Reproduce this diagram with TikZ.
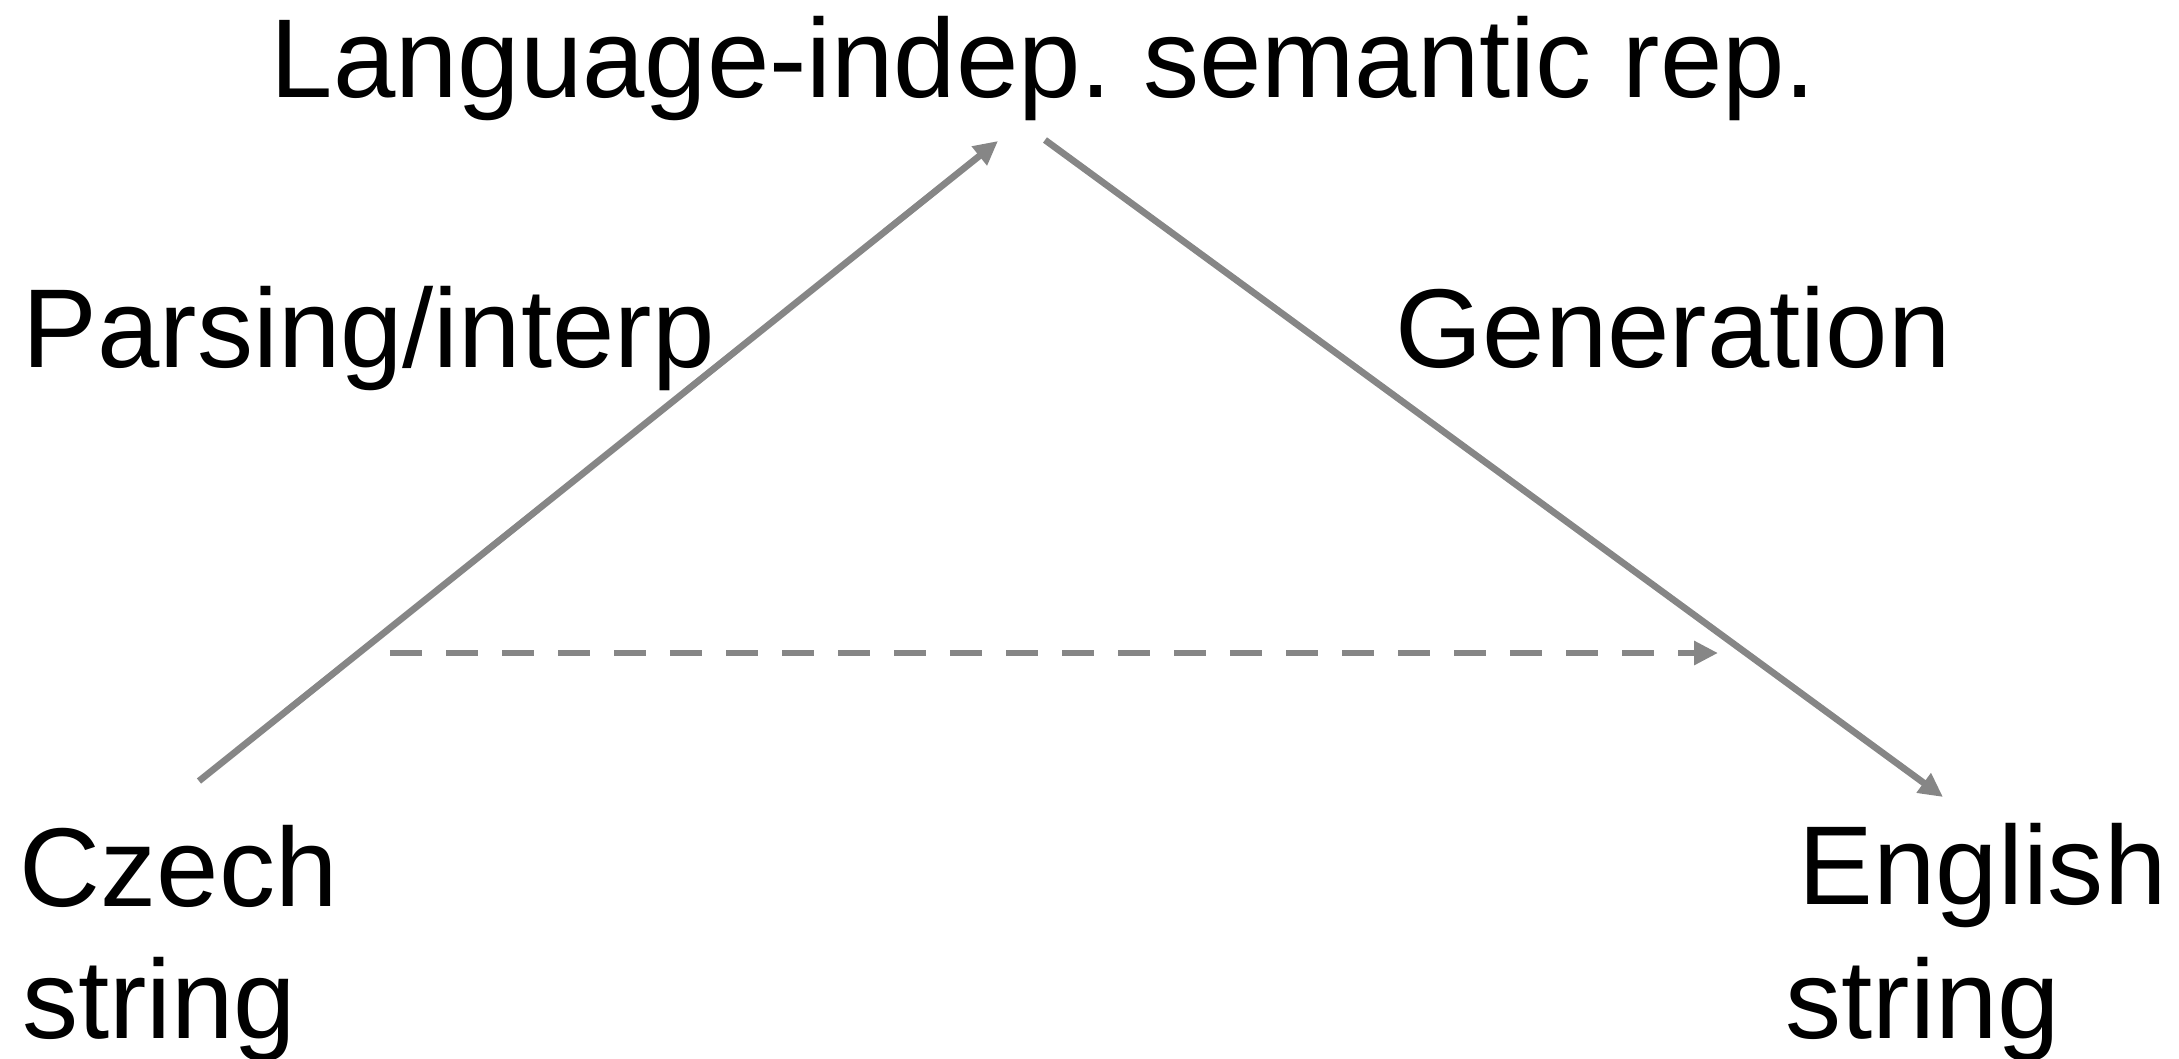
\documentclass[tikz,border=0pt]{standalone}
\usepackage{fontspec}
\setmainfont{Liberation Sans}
\usepackage{tikz}
\usetikzlibrary{arrows.meta}

\definecolor{linegray}{RGB}{134,134,134}

\tikzset{
  lbl/.style={anchor=base west, inner sep=0pt, font=\fontsize{31.9pt}{37.6pt}\selectfont},
  conn/.style={draw=linegray, line width=1.9pt, -{Triangle[length=0.24cm,width=0.23cm]}}
}

\begin{document}
\begin{tikzpicture}
\useasboundingbox (0,0) rectangle (21.79,10.58);
\node[lbl] (sem) at (2.70,9.61) {Language-indep.\ semantic rep.} ;
\node[lbl] (parse) at (0.22,6.91) {Parsing/interp} ;
\node[lbl] (gen) at (13.95,6.91) {Generation} ;
\node[lbl] (czech) at (0.19,1.52) {Czech} ;
\node[lbl] (czechstr) at (0.215,0.20) {string} ;
\node[lbl] (english) at (17.98,1.54) {English} ;
\node[lbl] (englishstr) at (17.85,0.20) {string} ;
% ends of the arrows
\coordinate (cz out) at (1.99,2.77) ;
\coordinate (sem in) at (9.98,9.17) ;
\coordinate (sem out) at (10.45,9.18) ;
\coordinate (en in) at (19.43,2.61) ;
\coordinate (cz dir) at (3.90,4.05) ;
\coordinate (en dir) at (17.18,4.05) ;
\draw[conn] (cz out) -- (sem in) ;
\draw[conn] (sem out) -- (en in) ;
\draw[conn, dash pattern=on 0.32cm off 0.24cm] (cz dir) -- (en dir) ;
\end{tikzpicture}
\end{document}
